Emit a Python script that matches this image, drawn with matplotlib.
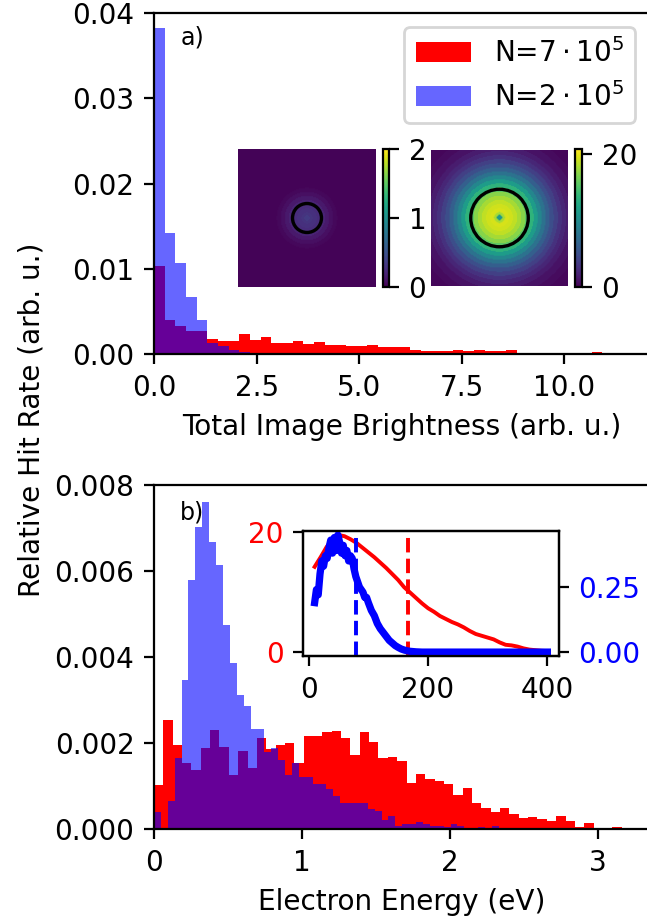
import numpy as np
import matplotlib
matplotlib.use("Agg")
import matplotlib.pyplot as plt

# ---------------------------------------------------------------------------
# Daten
# ---------------------------------------------------------------------------
# a) Gesamthelligkeit, Bins 0.26 breit ab 0
bright_bin = 0.26
bright_hi = [0.0103, 0.0040, 0.0033, 0.0027, 0.0027, 0.00176, 0.00148, 0.00148,
             0.00234, 0.0016, 0.00195, 0.00129, 0.00129, 0.00156, 0.00121, 0.00141,
             0.00102, 0.00102, 0.0009, 0.0009, 0.00102, 0.00086, 0.00086, 0.00078,
             0.00047, 0.0004, 0.00035, 0.0003, 0.00047, 0.0003, 0.00047, 0.0003,
             0.0003, 0.00047, 0.00016, 0.00016, 0.0001, 0.00016, 0.00012, 0.00016,
             0.00015, 0.0002, 0.00008, 0.00006, 0.00008, 0.00005, 0.00004, 0.00003]
bright_lo = [0.0382, 0.01417, 0.01065, 0.00663, 0.00394, 0.0013, 0.0009, 0.0005,
             0.0002, 0.0001, 0.0001, 0.00005, 0.00005, 0.00003, 0.00002]

# b) Elektronenenergie
energy_bin_hi = 0.0632
energy_hi = [0.00102, 0.00253, 0.00196, 0.00154, 0.00137, 0.00188, 0.0023, 0.00191,
             0.00126, 0.00182, 0.00143, 0.00211, 0.00185, 0.00195, 0.002, 0.00154,
             0.00216, 0.00216, 0.00226, 0.00227, 0.00212, 0.00173, 0.00225, 0.00203,
             0.00164, 0.00168, 0.00159, 0.00106, 0.00127, 0.00116, 0.00112, 0.00104,
             0.00079, 0.00095, 0.0006, 0.0005, 0.00039, 0.00048, 0.00035, 0.00025,
             0.00028, 0.00023, 0.00019, 0.00031, 0.00019, 0.00005, 0.00015, 0.0,
             0.0, 0.00005]
energy_bin_lo = 0.0466
energy_lo = [0.00039, 0.0, 0.00064, 0.00164, 0.00347, 0.0058, 0.00703, 0.00761,
             0.00668, 0.00614, 0.00474, 0.00387, 0.00312, 0.00286, 0.00232, 0.00232,
             0.00178, 0.00188, 0.0016, 0.00126, 0.00154, 0.00122, 0.00122, 0.00105,
             0.00105, 0.00092, 0.00077, 0.0006, 0.0006, 0.0006, 0.0006, 0.00047,
             0.00042, 0.00022, 0.00031, 0.00007, 0.00012, 0.00012, 0.00017, 0.00012,
             0.00007, 0.00007, 0.00005, 0.00011, 0.00007, 0.00003, 0.00003, 0.00005,
             0.00002, 0.00007]

labels = [r"N=$7\cdot10^5$", r"N=$2\cdot10^5$"]

# Inset b): Verteilungen
inset_x_hi = [10, 20, 30, 40, 50, 60, 70, 80, 90, 100, 110, 120, 130, 140, 150, 160,
              170, 180, 190, 200, 210, 220, 230, 240, 250, 260, 270, 280, 290, 300,
              310, 320, 330, 340, 350, 360, 370, 380, 390, 400]
inset_y_hi = [14.2, 15.8, 17.5, 18.8, 19.5, 19.3, 18.8, 18.2, 17.4, 16.6, 15.8, 14.9,
              14.0, 13.0, 12.0, 10.8, 9.9, 9.0, 8.1, 7.3, 6.7, 6.0, 5.5, 5.0, 4.6,
              4.1, 3.5, 3.0, 2.7, 2.4, 2.1, 1.6, 1.2, 1.1, 0.9, 0.6, 0.4, 0.3, 0.2, 0.15]
inset_x_lo = [10, 13, 16, 19, 22, 25, 28, 31, 34, 37, 40, 43, 46, 49, 52, 55, 58, 61,
              64, 67, 70, 73, 76, 79, 82, 85, 88, 91, 94, 97, 100, 105, 110, 115, 120,
              125, 130, 135, 140, 145, 150, 155, 160, 165, 170, 180, 190, 200, 250,
              300, 350, 400]
inset_y_lo = [0.19, 0.24, 0.22, 0.30, 0.35, 0.33, 0.37, 0.36, 0.40, 0.43, 0.38, 0.44,
              0.39, 0.45, 0.42, 0.38, 0.41, 0.37, 0.39, 0.35, 0.37, 0.36, 0.32, 0.29,
              0.27, 0.25, 0.24, 0.23, 0.21, 0.21, 0.19, 0.16, 0.14, 0.11, 0.09, 0.075,
              0.06, 0.045, 0.035, 0.025, 0.018, 0.012, 0.008, 0.005, 0.003, 0.001,
              0.0, 0.0, 0.0, 0.0, 0.0, 0.0]
cut_hi, cut_lo = 166, 80

# Radialprofile der Beispielbilder (Ringgrenzen in Einheiten der halben Breite)
ring_r = [0.04, 0.08, 0.14, 0.2, 0.26, 0.32, 0.38, 0.44, 0.5, 0.56, 0.62, 0.68,
          0.74, 0.8, 0.86, 0.92, 0.98, 1.05, 1.15, 1.25]
ring_lo = [0.35, 0.3, 0.28, 0.25, 0.2, 0.14, 0.08, 0.04, 0.02, 0.02, 0.02, 0.02,
           0.02, 0.02, 0.02, 0.02, 0.02, 0.02, 0.02, 0.02, 0.02]
ring_hi = [11, 18, 19.5, 19.3, 18.8, 18.0, 17.0, 15.5, 13.5, 11.5, 9.5, 7.8, 6.3,
           5.0, 3.9, 3.0, 2.2, 1.6, 1.0, 0.6, 0.4]
circle_lo, circle_hi = 0.21, 0.42

# ---------------------------------------------------------------------------
W, H, DPI = 647, 922, 201
fig = plt.figure(figsize=(W / DPI, H / DPI), dpi=DPI)


def px(x0, y0, x1, y1):
    return [x0 / W, 1 - y1 / H, (x1 - x0) / W, (y1 - y0) / H]


# ---- a) ----
ax_a = fig.add_axes(px(154, 13, 649, 354))
e = np.arange(len(bright_hi) + 1) * bright_bin
ax_a.stairs(bright_hi, e, fill=True, color="red", lw=0, label=labels[0])
e = np.arange(len(bright_lo) + 1) * bright_bin
ax_a.stairs(bright_lo, e, fill=True, color="blue", alpha=0.6, lw=0, label=labels[1])
ax_a.set_xlim(0, 12.06)
ax_a.set_ylim(0, 0.04)
ax_a.set_xticks([0, 2.5, 5, 7.5, 10])
ax_a.set_yticks([0, 0.01, 0.02, 0.03, 0.04])
ax_a.set_xlabel("Total Image Brightness (arb. u.)")
ax_a.text(0.053, 0.927, "a)", transform=ax_a.transAxes, fontsize=8.5, va="center")
ax_a.legend(loc="upper right")

yy, xx = np.mgrid[-1:1:140j, -1:1:140j]
rr = np.hypot(xx, yy)
for (box, cbox, ring, vmax, ticks, crad) in [
        ((238, 149, 376, 287), (383, 149, 389, 287), ring_lo, 2, [0, 1, 2], circle_lo),
        ((431, 149, 568, 287), (575, 149, 582, 287), ring_hi, 20.76, [0, 20], circle_hi)]:
    iax = fig.add_axes(px(*box))
    img = np.array(ring)[np.digitize(rr, ring_r)]
    im = iax.imshow(img, cmap="viridis", vmin=0, vmax=vmax, extent=(-1, 1, -1, 1))
    iax.add_patch(plt.Circle((0, 0), crad, fill=False, color="black", lw=1.2))
    iax.axis("off")
    cax = fig.add_axes(px(*cbox))
    cb = fig.colorbar(im, cax=cax, ticks=ticks)

# ---- b) ----
ax_b = fig.add_axes(px(154, 485, 649, 829))
e = np.arange(len(energy_hi) + 1) * energy_bin_hi
ax_b.stairs(energy_hi, e, fill=True, color="red", lw=0)
e = np.arange(len(energy_lo) + 1) * energy_bin_lo
ax_b.stairs(energy_lo, e, fill=True, color="blue", alpha=0.6, lw=0)
ax_b.set_xlim(0, 3.345)
ax_b.set_ylim(0, 0.008)
ax_b.set_xticks([0, 1, 2, 3])
ax_b.set_yticks([0, 0.002, 0.004, 0.006, 0.008])
ax_b.set_xlabel("Electron Energy (eV)")
ax_b.text(0.053, 0.921, "b)", transform=ax_b.transAxes, fontsize=8.5, va="center")

ins = fig.add_axes(px(303, 531, 559, 656))
ins.plot(inset_x_hi, inset_y_hi, color="red", lw=1.4)
ins.axvline(cut_hi, color="red", ls="--", lw=1.4)
ins.set_ylim(-0.67, 20.17)
ins.set_yticks([0, 20])
ins.tick_params(axis="y", labelcolor="red")
ins.set_xticks([0, 200, 400])
ins2 = ins.twinx()
ins2.plot(inset_x_lo, inset_y_lo, color="blue", lw=2.6)
ins2.axvline(cut_lo, color="blue", ls="--", lw=1.4)
ins2.set_ylim(-0.015, 0.465)
ins2.set_yticks([0, 0.25])
ins2.tick_params(axis="y", labelcolor="blue")
ins.set_xlim(-9.5, 419.5)

fig.text(0.048, 0.5445, "Relative Hit Rate (arb. u.)", rotation=90,
         ha="center", va="center")

fig.savefig("out.png", dpi=DPI)
